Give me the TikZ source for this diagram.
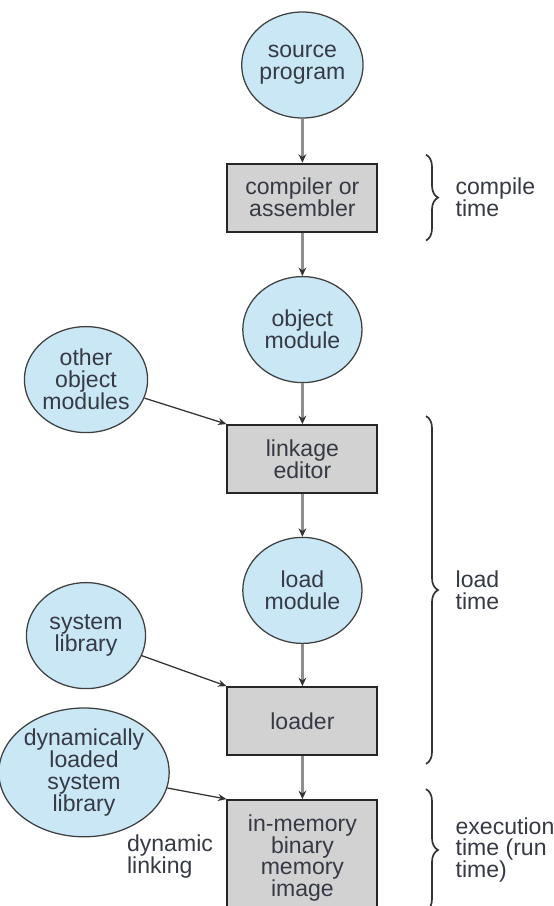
\documentclass[tikz,border=0pt]{standalone}
\usepackage{fontspec}
\setmainfont{Liberation Sans}
\usepackage{tikz}
\usetikzlibrary{shapes.geometric, arrows.meta, positioning, decorations.pathreplacing}
\definecolor{clrModule}{HTML}{C9E7F5}
\definecolor{clrTool}{HTML}{D2D2D2}
\definecolor{clrText}{HTML}{363A44}
\definecolor{clrFlow}{HTML}{8E8E8E}
\tikzset{
  module/.style = {ellipse, minimum width=2.98cm, minimum height=2.65cm, inner sep=0pt,
                   align=center, font=\fontsize{16.4}{15.6}\selectfont, text=clrText,
                   draw=black!75, line width=0.9pt, fill=clrModule},
  tool/.style = {rectangle, minimum width=3.75cm, minimum height=1.7cm, inner sep=0pt,
                 align=center, font=\fontsize{16.4}{15.6}\selectfont, text=clrText,
                 draw=black!85, line width=1.3pt, fill=clrTool},
  flow/.style = {-{Stealth[length=6pt, width=5.5pt, color=black!80]}, draw=clrFlow, line width=2pt},
  feed/.style = {-{Stealth[length=6pt, width=5pt]}, draw=black!80, line width=0.9pt},
  phase/.style = {decorate, decoration={brace, amplitude=0.3cm}, draw=black!80, line width=1.2pt},
  phaselabel/.style = {align=left, inner sep=0pt, font=\fontsize{16.4}{15.6}\selectfont, text=clrText},
}

\begin{document}
\begin{tikzpicture}
  \useasboundingbox (0,0) rectangle (13.85,-22.65);

  % x-positions of the two columns and the braces
  \def\colMain{7.56}
  \def\colSide{2.15}
  \coordinate (braceX) at (10.65,0);

  % --- Main chain ---
  \node[module] at (\colMain, -1.625)  (source)   {source\\program};
  \node[tool]   at (\colMain, -4.94)   (compiler) {compiler or\\assembler};
  \node[module] at (\colMain, -8.24)   (objmod)   {object\\module};
  \node[tool]   at (\colMain, -11.475) (linkage)  {linkage\\editor};
  \node[module] at (\colMain, -14.76)  (loadmod)  {load\\module};
  \node[tool]   at (\colMain, -18.025) (loader)   {loader};
  \node[tool, minimum height=2.9cm] at (\colMain, -21.45) (image)
    {in-memory\\binary\\memory\\image};

  \draw[flow] (source.south)   -- (compiler.north);
  \draw[flow] (compiler.south) -- (objmod.north);
  \draw[flow] (objmod.south)   -- (linkage.north);
  \draw[flow] (linkage.south)  -- (loadmod.north);
  \draw[flow] (loadmod.south)  -- (loader.north);
  \draw[flow] (loader.south)   -- (image.north);

  % --- Side inputs ---
  \node[module] at (\colSide, -9.49)  (othermods) {other\\object\\modules};
  \node[module] at (\colSide, -15.89) (syslib)    {system\\library};
  \node[module, minimum width=3.55cm, minimum height=3.22cm]
    at (2.10, -19.31) (dynlib) {dynamically\\loaded\\system\\library};

  \draw[feed] (othermods) -- (linkage.north west);
  \draw[feed] (syslib)    -- (loader.north west);
  \draw[feed] (dynlib)    -- (image.north west);

  \node[phaselabel] at (4.25, -21.42) (dynlink) {dynamic\\linking};

  % --- Time braces ---
  \draw[phase] ([yshift=0.2cm]compiler.north -| braceX) -- ([yshift=-0.2cm]compiler.south -| braceX)
    node[phaselabel, midway, right=0.72cm] (compiletime) {compile\\time};
  \draw[phase] ([yshift=0.2cm]linkage.north -| braceX) -- ([yshift=-0.2cm]loader.south -| braceX)
    node[phaselabel, midway, right=0.72cm] (loadtime) {load\\time};
  \draw[phase] ([yshift=0.25cm]image.north -| braceX) -- ([yshift=0.15cm]image.south -| braceX)
    node[phaselabel, midway, right=0.72cm] (runtime) {execution\\time (run\\time)};
\end{tikzpicture}
\end{document}
